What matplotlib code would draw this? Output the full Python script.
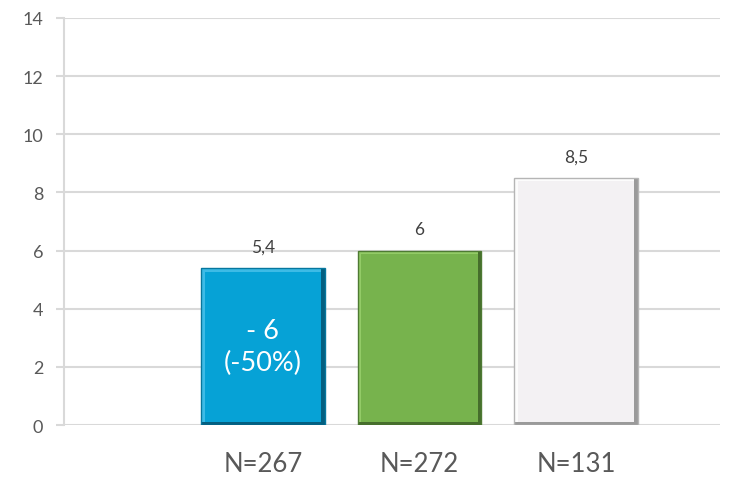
import matplotlib
matplotlib.use("Agg")
import matplotlib.pyplot as plt

# ---- data ----
categories = ["N=267", "N=272", "N=131"]
values = [5.4, 6.0, 8.5]
value_labels = ["5,4", "6", "8,5"]
inner_labels = ["- 6\n(-50%)", "", ""]
y_ticks = [0, 2, 4, 6, 8, 10, 12, 14]

# ---- styles ----
main_colors = ["#06A2D6", "#77B34D", "#F3F1F3"]
light_colors = ["#3DBBE6", "#93CB67", "#FCFCFC"]
dark_colors = ["#045F80", "#466E2C", "#9A9A9A"]
edge_colors = ["#06779E", "#4E7A33", "#B5B5B5"]
grid_color = "#D9D9D9"
text_color = "#595959"
plt.rcParams['font.family'] = ['Lato', 'DejaVu Sans']

fig = plt.figure(figsize=(7.34, 4.81), dpi=100)
ax = fig.add_axes([0.0872, 0.1143, 0.981 - 0.0872, 0.9605 - 0.1143])

positions = [i + 1 for i in range(len(categories))]
width = 0.79
bx = 0.024   # bevel in x data units
by = 0.12    # bevel in y data units

for pos, v, mc, lc, dc, ec in zip(positions, values, main_colors, light_colors, dark_colors, edge_colors):
    ax.bar(pos, v, width=width, color=dc, zorder=3, linewidth=0)
    ax.bar(pos - bx / 2, v - by, bottom=by, width=width - bx, color=lc, zorder=4, linewidth=0)
    ax.bar(pos, v - 2 * by, bottom=by, width=width - 2 * bx, color=mc, zorder=5, linewidth=0)
    ax.bar(pos, v, width=width, fill=False, edgecolor=ec, linewidth=1.0, zorder=6)

for pos, v, lab in zip(positions, values, value_labels):
    ax.annotate(lab, (pos, v), xytext=(0, 15.5), textcoords="offset points",
                ha="center", va="center", fontsize=12.5, color="#404040")

for pos, v, lab in zip(positions, values, inner_labels):
    if lab:
        ax.text(pos, v / 2, lab, ha="center", va="center", fontsize=19.5,
                color="white", zorder=7, linespacing=1.3)

ax.set_ylim(0, 14)
ax.set_xlim(-0.27, 3.92)
ax.set_yticks(y_ticks)
ax.set_yticklabels([str(t) for t in y_ticks], fontsize=13, color=text_color)
ax.set_xticks(positions)
ax.set_xticklabels(categories, fontsize=18.5, color=text_color)
ax.tick_params(axis="x", length=0, pad=19)
ax.tick_params(axis="y", length=6, width=1.5, color=grid_color, pad=9)

ax.grid(axis="y", color=grid_color, linewidth=1.5, zorder=0)
ax.set_axisbelow(True)
for s in ["top", "right", "bottom"]:
    ax.spines[s].set_visible(False)
ax.spines["left"].set_color(grid_color)
ax.spines["left"].set_linewidth(1.5)

fig.savefig("out.png", dpi=100)
